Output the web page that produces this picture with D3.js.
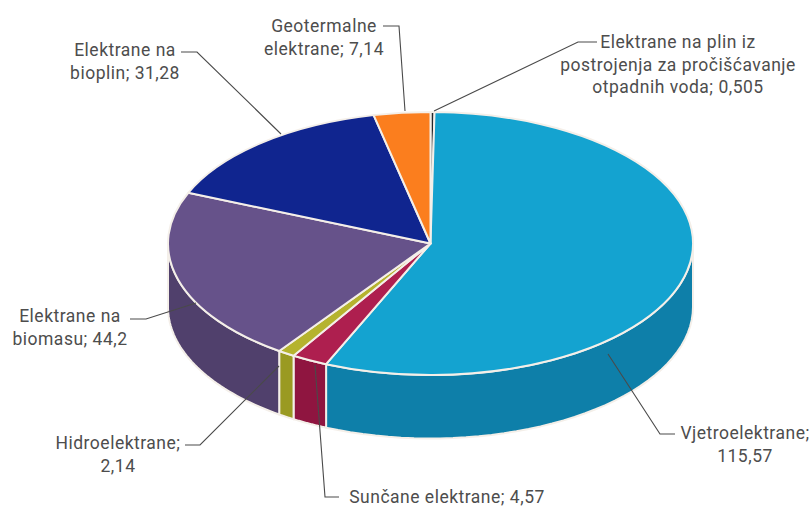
<!DOCTYPE html>
<html>
<head>
<meta charset="utf-8">
<script src="https://cdn.jsdelivr.net/npm/d3@7"></script>
<style>
  html, body { margin: 0; padding: 0; background: #fff; }
  text { font-family: "Roboto", sans-serif; font-size: 17.5px; letter-spacing: 0.5px; fill: #4d4d4d; }
</style>
</head>
<body>
<div id="chart"></div>
<script>
const categories = ["Elektrane na plin iz postrojenja za pročišćavanje otpadnih voda", "Vjetroelektrane", "Sunčane elektrane", "Hidroelektrane", "Elektrane na biomasu", "Elektrane na bioplin", "Geotermalne elektrane"];
const values = [0.505, 115.57, 4.57, 2.14, 44.2, 31.28, 7.14];
const topColors = ["#23262b", "#14a3d0", "#ae1f4f", "#b5b32e", "#66528a", "#10258f", "#fb7e1e"];
const wallColors = ["#1a1c20", "#0e7fa9", "#8f1540", "#9a9a22", "#50406c", "#0b1a68", "#c9651a"];

const labelLines = [
  ["Elektrane na plin iz", "postrojenja za pročišćavanje", "otpadnih voda; 0,505"],
  ["Vjetroelektrane;", "115,57"],
  ["Sunčane elektrane; 4,57"],
  ["Hidroelektrane;", "2,14"],
  ["Elektrane na", "biomasu; 44,2"],
  ["Elektrane na", "bioplin; 31,28"],
  ["Geotermalne", "elektrane; 7,14"]
];
const labelPos = [[678, 48], [745, 439], [447, 503], [118, 449], [70, 322], [125, 56], [324, 32]];
const leaders = [
  [[597, 42], [578, 42], [434, 111]],
  [[675, 434], [660, 434], [608, 354]],
  [[339, 497], [325, 497], [315, 365]],
  [[185, 445], [200, 445], [279, 366]],
  [[130, 319], [146, 319], [196, 303]],
  [[181, 52], [197, 52], [281, 134]],
  [[383, 26], [399, 26], [405, 111]]
];

const width = 812, height = 506;
const cx = 430.5, cy = 243.5, rx = 262.5, ry = 131.5, depth = 63.5;
const edge = "#f4efe9";

const svg = d3.select("#chart").append("svg")
  .attr("width", width)
  .attr("height", height)
  .style("display", "block");

const pie = d3.pie().sort(null).value(d => d)(values);

const px = a => cx + rx * Math.sin(a);
const py = a => cy - ry * Math.cos(a);

// side walls, only the front half of the ellipse is visible
const walls = svg.append("g");
pie.forEach((d, i) => {
  const a0 = Math.max(d.startAngle, Math.PI / 2);
  const a1 = Math.min(d.endAngle, Math.PI * 1.5);
  if (a1 <= a0) return;
  const steps = d3.range(0, 41).map(k => a0 + (a1 - a0) * k / 40);
  const upper = steps.map(a => [px(a), py(a)]);
  const lower = steps.slice().reverse().map(a => [px(a), py(a) + depth]);
  walls.append("path")
    .attr("d", d3.line()(upper.concat(lower)) + "Z")
    .attr("fill", wallColors[i])
    .attr("stroke", edge)
    .attr("stroke-width", 2)
    .attr("stroke-linejoin", "round");
});

// top face: circular arcs squashed into the ellipse
const arc = d3.arc().innerRadius(0).outerRadius(rx);
svg.append("g")
  .attr("transform", `translate(${cx},${cy}) scale(1,${ry / rx})`)
  .selectAll("path")
  .data(pie)
  .enter()
  .append("path")
  .attr("d", arc)
  .attr("fill", (d, i) => topColors[i])
  .attr("stroke", edge)
  .attr("stroke-width", 2)
  .attr("stroke-linejoin", "round")
  .attr("vector-effect", "non-scaling-stroke");

svg.append("g")
  .selectAll("path")
  .data(leaders)
  .enter()
  .append("path")
  .attr("d", d => d3.line()(d))
  .attr("fill", "none")
  .attr("stroke", "#4a4a4a")
  .attr("stroke-width", 1.1);

const labels = svg.append("g")
  .selectAll("text")
  .data(labelLines)
  .enter()
  .append("text")
  .attr("text-anchor", "middle")
  .attr("transform", (d, i) => `translate(${labelPos[i][0]},${labelPos[i][1]})`);

labels.selectAll("tspan")
  .data(d => d)
  .enter()
  .append("tspan")
  .attr("x", 0)
  .attr("y", (d, i) => i * 22.7)
  .text(d => d);
</script>
</body>
</html>
